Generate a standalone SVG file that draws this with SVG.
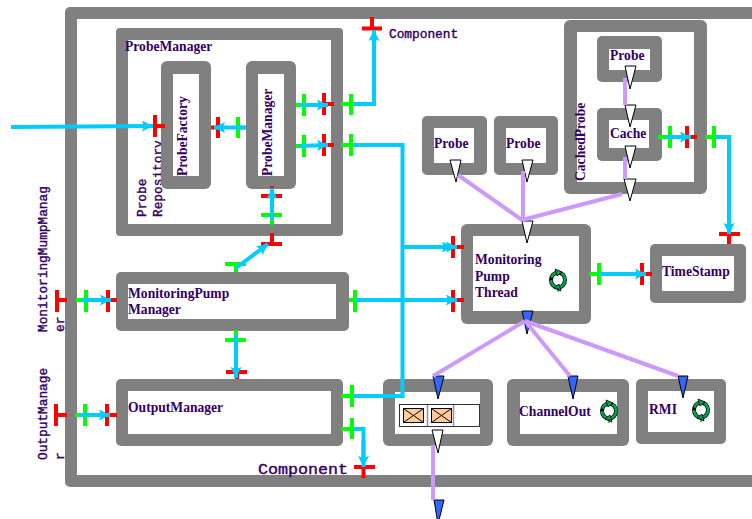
<svg xmlns="http://www.w3.org/2000/svg" width="752" height="519" viewBox="0 0 752 519">
<style>
.o{fill:#808080}
.i{fill:#fff}
text{fill:#330066;font-family:"Liberation Serif",serif;font-weight:bold;font-size:13.6px}
.m{font-family:"Liberation Mono",monospace;font-weight:normal;font-size:12.8px;stroke:#330066;stroke-width:.4}
.r,.g,.b,.p{fill:none}
.r{stroke:#f00;stroke-width:4}
.g{stroke:#0f0;stroke-width:4}
.b{stroke:#00ccff;stroke-width:4}
.p{stroke:#cc99ff;stroke-width:4}
.a{marker-end:url(#ah)}
.tw{fill:#fff;stroke:#000;stroke-width:1}
.tb{fill:#3366ff;stroke:#000;stroke-width:1}
.env{fill:#ffcc99;stroke:#000;stroke-width:1}
</style>
<defs>
<marker id="ah" markerUnits="userSpaceOnUse" markerWidth="14" markerHeight="12" refX="11" refY="5.5" orient="auto"><path d="M0 0L11 5.5L0 11L2 5.500Z" fill="#00ccff"/></marker>
<g id="cyc">
<ellipse rx="7" ry="7.500" fill="none" stroke="#000" stroke-width="4"/>
<ellipse rx="7" ry="7.500" fill="none" stroke="#00a651" stroke-width="2.600" stroke-dasharray="10 2.500"/>
<path d="M-3 -11L4 -8L-1 -4ZM3 11L-4 8L1 4ZM0 8V12" fill="#00a651" stroke="#000" stroke-width=".8"/>
</g>
</defs>

<g id="outer-frame"><rect class="o" x="65" y="7" width="700" height="480" rx="5"/><rect class="i" x="77" y="19" width="690" height="456"/></g>
<g id="MonitoringMumpManager-label"><text class="m" transform="translate(47 332) rotate(-90)">MonitoringMumpManag</text><text class="m" transform="translate(64 332) rotate(-90)">er</text></g>
<g id="OutputManager-label"><text class="m" transform="translate(47 460) rotate(-90)">OutputManage</text><text class="m" transform="translate(64 460) rotate(-90)">r</text></g>

<g id="ProbeManagerOuter"><rect class="o" x="116" y="28" width="227" height="208" rx="4"/><rect class="i" x="128" y="40" width="203" height="184"/>
<text x="125" y="51">ProbeManager</text>
<text class="m" transform="translate(146 217) rotate(-90)">Probe</text><text class="m" transform="translate(162 217) rotate(-90)">Repository</text></g>
<g id="ProbeFactory"><rect class="o" x="161" y="61" width="50" height="128" rx="6"/><rect class="i" x="173" y="74" width="26" height="102"/><text transform="translate(187 176) rotate(-90)">ProbeFactory</text></g>
<g id="ProbeManagerInner"><rect class="o" x="246" y="61" width="50" height="128" rx="6"/><rect class="i" x="258" y="74" width="26" height="102"/><text transform="translate(272 176) rotate(-90)">ProbeManager</text></g>
<g id="MonitoringPumpManager"><rect class="o" x="116" y="272" width="233" height="59" rx="5"/><rect class="i" x="128" y="284" width="208" height="35"/><text x="128" y="298">MonitoringPump</text><text x="128" y="314">Manager</text></g>
<g id="OutputManager"><rect class="o" x="116" y="379" width="227" height="67" rx="5"/><rect class="i" x="128" y="391" width="203" height="43"/><text x="128" y="412">OutputManager</text></g>
<g id="Probe1"><rect class="o" x="422" y="116" width="65" height="59" rx="5"/><rect class="i" x="434" y="128" width="40" height="35"/><text x="434" y="148">Probe</text></g>
<g id="Probe2"><rect class="o" x="494" y="116" width="64" height="59" rx="5"/><rect class="i" x="506" y="128" width="40" height="35"/><text x="506" y="148">Probe</text></g>
<g id="CachedProbe"><rect class="o" x="564" y="20" width="143" height="174" rx="6"/><rect class="i" x="577" y="32" width="117" height="150"/><text transform="translate(585 181) rotate(-90)">CachedProbe</text></g>
<g id="Probe3"><rect class="o" x="597" y="36" width="65" height="46" rx="5"/><rect class="i" x="609" y="49" width="41" height="21"/><text x="610" y="60">Probe</text></g>
<g id="Cache"><rect class="o" x="597" y="108" width="65" height="53" rx="5"/><rect class="i" x="609" y="120" width="40" height="28"/><text x="610" y="138">Cache</text></g>
<g id="MonitoringPumpThread"><rect class="o" x="461" y="224" width="130" height="100" rx="6"/><rect class="i" x="473" y="236" width="106" height="75"/><text x="475" y="264">Monitoring</text><text x="475" y="281">Pump</text><text x="475" y="297">Thread</text><use href="#cyc" x="558" y="280"/></g>
<g id="TimeStamp"><rect class="o" x="650" y="244" width="96" height="59" rx="5"/><rect class="i" x="662" y="256" width="72" height="35"/><text x="662" y="276">TimeStamp</text></g>
<g id="Queue"><rect class="o" x="383" y="379" width="110" height="67" rx="6"/><rect class="i" x="395" y="392" width="85" height="42"/>
<rect x="399.500" y="404.500" width="80" height="22" fill="#fff" stroke="#333" stroke-width="1"/>
<path d="M427.500 405V426M453.500 405V426" stroke="#9988bb" stroke-width="1.500"/>
<rect class="env" x="403.500" y="408.500" width="20" height="14"/><path d="M403.500 408.500L423.500 422.500M423.500 408.500L403.500 422.500" stroke="#000" fill="none"/>
<rect class="env" x="431.500" y="408.500" width="20" height="14"/><path d="M431.500 408.500L451.500 422.500M451.500 408.500L431.500 422.500" stroke="#000" fill="none"/></g>
<g id="ChannelOut"><rect class="o" x="507" y="379" width="122" height="67" rx="6"/><rect class="i" x="520" y="392" width="97" height="42"/><text x="519" y="416">ChannelOut</text><use href="#cyc" x="609" y="411"/></g>
<g id="RMI"><rect class="o" x="636" y="379" width="90" height="65" rx="5"/><rect class="i" x="648" y="391" width="66" height="41"/><text x="649" y="414">RMI</text><use href="#cyc" x="701" y="410"/></g>

<g id="connectors">
<path class="b" d="M351 104H374V32"/>
<path class="b" d="M351 145H402.500V396H352"/>
<path class="b" d="M402 247H448"/>
<path class="b" d="M714 137H729V225"/>
<path class="b" d="M352 429H363.500V458"/>
<g class="r">
<path d="M155 115V137M155 126H165"/>
<path d="M218 117V138M218 127.500H211"/>
<path d="M324 93V115M324 104H334"/>
<path d="M324 134V156M324 145H334"/>
<path d="M362 28.500H382M372 28V17"/>
<path d="M261 196H282M272 196V186"/>
<path d="M261 244H282M272 244V233"/>
<path d="M453 236V258M453 247H464"/>
<path d="M453 290V312M453 300H464"/>
<path d="M57 290V312M57 300H67"/>
<path d="M108 290V312M108 300H117"/>
<path d="M56 404V426M56 415H67"/>
<path d="M107 404V426M107 415H117"/>
<path d="M226 372H247M237 372V379"/>
<path d="M354 467H375M363.500 467V478"/>
<path d="M687 126V148M687 137H697"/>
<path d="M719 234H740M729 234V244"/>
<path d="M642 263V285M642 274H652"/>
</g>
<g class="g">
<path d="M238 117V138M238 127.500H246"/>
<path d="M304 94V116M304 105H296"/>
<path d="M304 135V157M304 146H296"/>
<path d="M351 94V115M351 104H341"/>
<path d="M351 134V156M351 145H341"/>
<path d="M261 215H282M272 215V225"/>
<path d="M225 264H246M236 264V272"/>
<path d="M355 290V312M355 300H349"/>
<path d="M86 290V312M86 300H76"/>
<path d="M85 404V426M85 415H75"/>
<path d="M225 340H246M236 340V330"/>
<path d="M352 385V407M352 396H341"/>
<path d="M352 418V439M352 429H341"/>
<path d="M670 126V148M670 137H658"/>
<path d="M714 126V148M714 137H705"/>
<path d="M599 263V285M599 274H589"/>
</g>
<path class="b a" d="M11 127L153 126"/>
<path class="b a" d="M246 127.500H214"/>
<path class="b a" d="M299 105H328"/>
<path class="b a" d="M299 146L328 145"/>
<path class="b a" d="M374 104V30"/>
<path class="b a" d="M272 220V188"/>
<path class="b a" d="M236 268L268 244"/>
<path class="b a" d="M402 247H453"/>
<path class="b a" d="M402 247H457"/>
<path class="b a" d="M355 300H457"/>
<path class="b a" d="M82 300H111"/>
<path class="b a" d="M80 415H110"/>
<path class="b a" d="M236 335V378"/>
<path class="b a" d="M363.500 440V467"/>
<path class="b a" d="M665 137H691"/>
<path class="b a" d="M729 200V234"/>
<path class="b a" d="M599 274H646"/>
<path class="tw" d="M450 160H461L456 182Z"/>
<path class="tw" d="M522 160H533L527 182Z"/>
<path class="tw" d="M522 221H533L527 243Z"/>
<path class="tw" d="M624 179H636L630 201Z"/>
<path class="tw" d="M625 105H636L630 127Z"/>
<path class="tw" d="M625 146H636L630 168Z"/>
<path class="tw" d="M625 66H636L630 89Z"/>
<path class="tw" d="M432 430H443L438 453Z"/>
<path class="tb" d="M522 311H533L527 334Z"/>
<path class="tb" d="M433 376H444L438 399Z"/>
<path class="tb" d="M568 376H578L573 399Z"/>
<path class="tb" d="M678 376H688L683 398Z"/>
<path class="tb" d="M434 500H444L438 524Z"/>
<path class="p" d="M458 175L522 220"/>
<path class="p" d="M523 171V220"/>
<path class="p" d="M622 194L522 220"/>
<path class="p" d="M625 78V105"/>
<path class="p" d="M625 157V179"/>
<path class="p" d="M525 321L433 376"/>
<path class="p" d="M525 321L570 376"/>
<path class="p" d="M525 321L678 376"/>
<path class="p" d="M433 445V500"/>
</g>
<g id="labels">
<text class="m" x="389" y="38">Component</text>
<text class="m" x="258" y="474" textLength="90" lengthAdjust="spacingAndGlyphs" style="font-size:15px">Component</text>
</g>
</svg>
